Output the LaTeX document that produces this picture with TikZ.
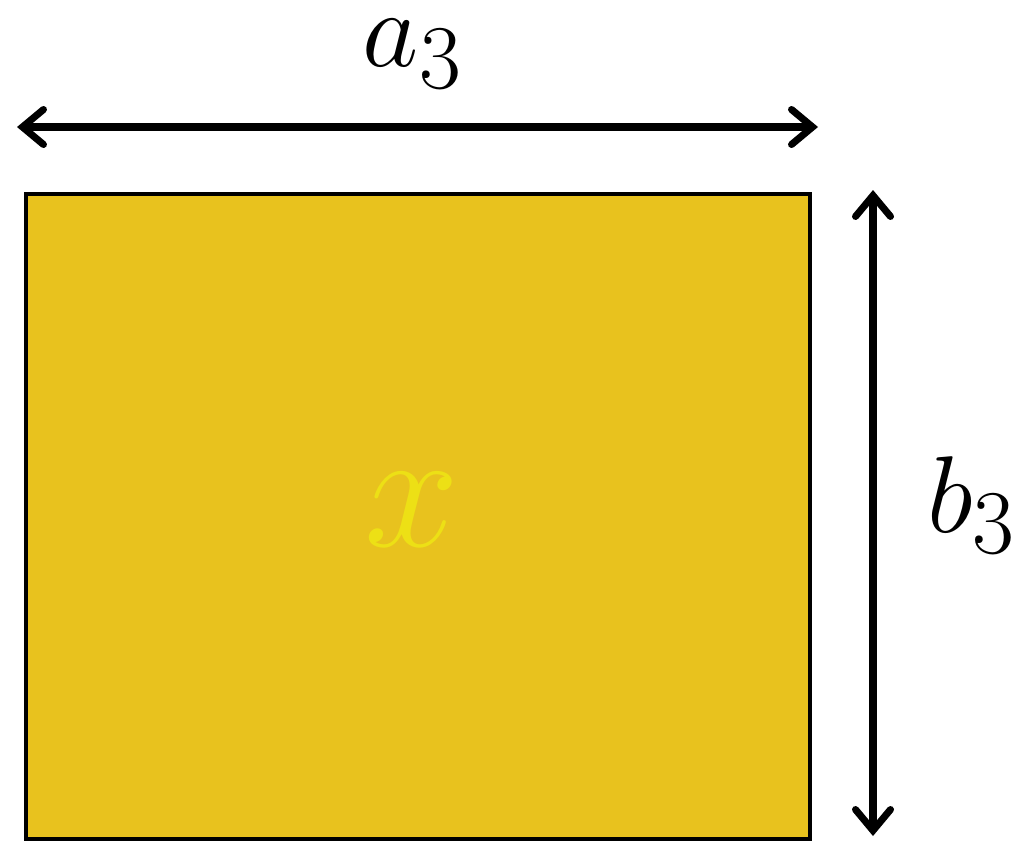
\documentclass[tikz,border=0pt]{standalone}
\usepackage{tikz}
\usetikzlibrary{arrows.meta,positioning}
\definecolor{boxGold}{HTML}{E8C21E}
\definecolor{boxLabel}{HTML}{EDE015}
\tikzset{
    dimarrow/.style={{Straight Barb[length=0.42cm,width=0.7cm,line cap=round]}-{Straight Barb[length=0.42cm,width=0.7cm,line cap=round]},line width=4pt,line cap=round,black},
    dimlabel/.style={font=\Huge,scale=2.5,inner sep=0pt}
}
\begin{document}
\begin{tikzpicture}[x=0.02cm,y=-0.02cm]
\useasboundingbox (0,0) rectangle (1022,842);

% Rectangle with its label
\node[draw=black,line width=2.5pt,fill=boxGold,minimum width=15.68cm,minimum height=12.9cm,inner sep=0pt] (rect) at (418,516.5) {};
\node[font=\Huge,scale=3.9,text=boxLabel,inner sep=0pt] (xlbl) at (412,510) {$x$};

% Dimension arrows
\coordinate (aL) at (17,127);
\coordinate (aR) at (818,127);
\coordinate (bT) at (873,190);
\coordinate (bB) at (873,836);
\draw[dimarrow] (aL) -- (aR);
\draw[dimarrow] (bT) -- (bB);

% Dimension labels
\node[dimlabel] (alabel) at (413,54) {$a_3$};
\node[dimlabel] (blabel) at (972,505) {$b_3$};

\end{tikzpicture}
\end{document}
